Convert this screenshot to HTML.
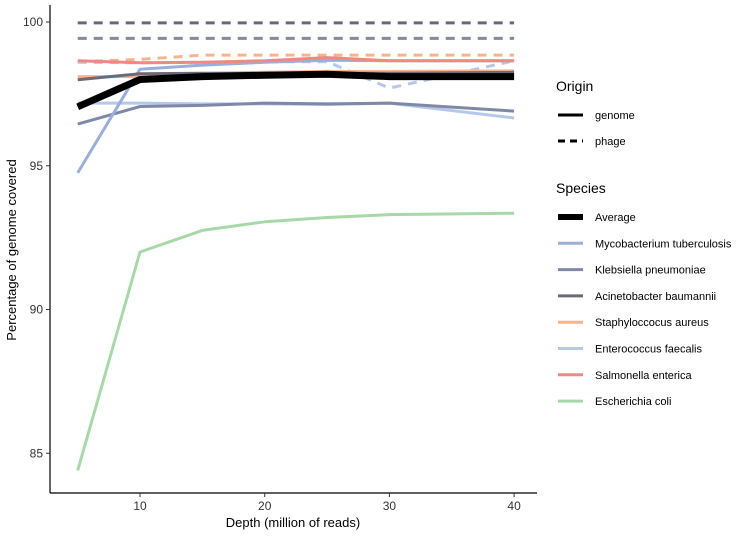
<!DOCTYPE html>
<html><head><meta charset="utf-8"><style>
body{margin:0;background:#fff;font-family:"Liberation Sans",sans-serif}
svg text{font-family:"Liberation Sans",sans-serif}
</style></head><body>
<svg id="chart" width="745" height="533">
<g id="axes"></g><g id="series"></g><g id="legend"></g>
</svg>
<script>
const depths=[5,10,15,20,25,30,40];
const average=[97.05,98.0,98.1,98.15,98.18,98.1,98.1];
const mycoGenome=[94.75,98.36,98.5,98.6,98.67,98.65,98.65];
const klebGenome=[96.45,97.06,97.1,97.18,97.15,97.18,96.9];
const klebPhage=[99.43,99.43,99.43,99.43,99.43,99.43,99.43];
const acinetoGenome=[97.99,98.2,98.22,98.22,98.22,98.22,98.25];
const acinetoPhage=[99.97,99.97,99.97,99.97,99.97,99.97,99.97];
const staphGenome=[98.1,98.1,98.2,98.25,98.28,98.28,98.3];
const staphPhage=[98.62,98.7,98.85,98.85,98.85,98.85,98.85];
const enteroGenome=[97.18,97.18,97.15,97.15,97.13,97.18,96.66];
const enteroPhage=[98.6,98.58,98.6,98.62,98.62,97.7,98.65];
const salmGenome=[98.65,98.58,98.6,98.65,98.76,98.65,98.65];
const ecoliGenome=[84.4,92.0,92.75,93.05,93.2,93.3,93.35];
const xTicks=[10,20,30,40];
const yTicks=[85,90,95,100];
const speciesNames=["Average","Mycobacterium tuberculosis","Klebsiella pneumoniae","Acinetobacter baumannii","Staphyloccocus aureus","Enterococcus faecalis","Salmonella enterica","Escherichia coli"];
const speciesColors=["#000","#9aafd9","#8088a8","#6b6b78","#f9b48f","#b4c8ea","#ee8a83","#a8d8a8"];

const NS="http://www.w3.org/2000/svg";
const X=v=>140+(v-10)*12.47;
const Y=v=>22+(100-v)*28.75;
function mk(tag,attrs,parent,txt){const e=document.createElementNS(NS,tag);for(const k in attrs)e.setAttribute(k,attrs[k]);if(txt!=null)e.textContent=txt;parent.appendChild(e);return e;}
const axes=document.getElementById('axes'),ser=document.getElementById('series'),leg=document.getElementById('legend');
let a=mk('line',{x1:50,y1:5,x2:50,y2:493,stroke:'#000','stroke-width':1.2},axes);

a=mk('line',{x1:50,y1:493,x2:537,y2:493,stroke:'#000','stroke-width':1.2},axes);

xTicks.forEach(t=>{mk('line',{x1:X(t),y1:493,x2:X(t),y2:497,stroke:'#333'},axes);
 const tx=mk('text',{x:X(t),y:510,'text-anchor':'middle','font-size':12,fill:'#333'},axes,t);
 });
yTicks.forEach(t=>{mk('line',{x1:46,y1:Y(t),x2:50,y2:Y(t),stroke:'#333'},axes);
 const tx=mk('text',{x:43,y:Y(t)+4,'text-anchor':'end','font-size':12,fill:'#333'},axes,t);
 });
let t=mk('text',{x:293,y:527,'text-anchor':'middle','font-size':13},axes,'Depth (million of reads)');

t=mk('text',{x:0,y:0,'text-anchor':'middle','font-size':13,transform:'translate(16,250) rotate(-90)'},axes,'Percentage of genome covered');


function line(vals,color,w,dash,name){
 const p=mk('path',{d:vals.map((v,i)=>(i?'L':'M')+X(depths[i]).toFixed(1)+','+Y(v).toFixed(1)).join(''),fill:'none',stroke:color,'stroke-width':w,'stroke-dasharray':dash||'none','stroke-linejoin':'round'},ser);
 
}
line(acinetoPhage,"#6b6b78",3,"9,7","acinetobacter-phage-line");
line(klebPhage,"#8088a8",3,"9,7","klebsiella-phage-line");
line(staphPhage,"#f9b48f",3,"9,7","staphylococcus-phage-line");
line(enteroPhage,"#b4c8ea",3,"9,7","enterococcus-phage-line");
line(ecoliGenome,"#a8d8a8",3,null,"escherichia-genome-line");
line(enteroGenome,"#b4c8ea",3,null,"enterococcus-genome-line");
line(klebGenome,"#8088a8",3,null,"klebsiella-genome-line");
line(mycoGenome,"#9aafd9",3,null,"mycobacterium-genome-line");
line(staphGenome,"#f9b48f",3,null,"staphylococcus-genome-line");
line(acinetoGenome,"#6b6b78",3,null,"acinetobacter-genome-line");
line(salmGenome,"#ee8a83",3,null,"salmonella-genome-line");
line(average,"#000",7,null,"average-line");

t=mk('text',{x:556,y:91,'font-size':14},leg,'Origin');

[['genome',null,115],['phage','7,5',141]].forEach(([n,d,y])=>{
 const l=mk('line',{x1:558,y1:y,x2:583,y2:y,stroke:'#000','stroke-width':3,'stroke-dasharray':d||'none'},leg);
 
 const tx=mk('text',{x:595,y:y+4,'font-size':11},leg,n);
 });
t=mk('text',{x:556,y:193,'font-size':14},leg,'Species');

speciesNames.forEach((n,i)=>{const y=217+i*26.3;
 const l=mk('line',{x1:558,y1:y,x2:583,y2:y,stroke:speciesColors[i],'stroke-width':i?3:6},leg);
 
 const tx=mk('text',{x:595,y:y+4,'font-size':11},leg,n);
 });
</script>
</body></html>
